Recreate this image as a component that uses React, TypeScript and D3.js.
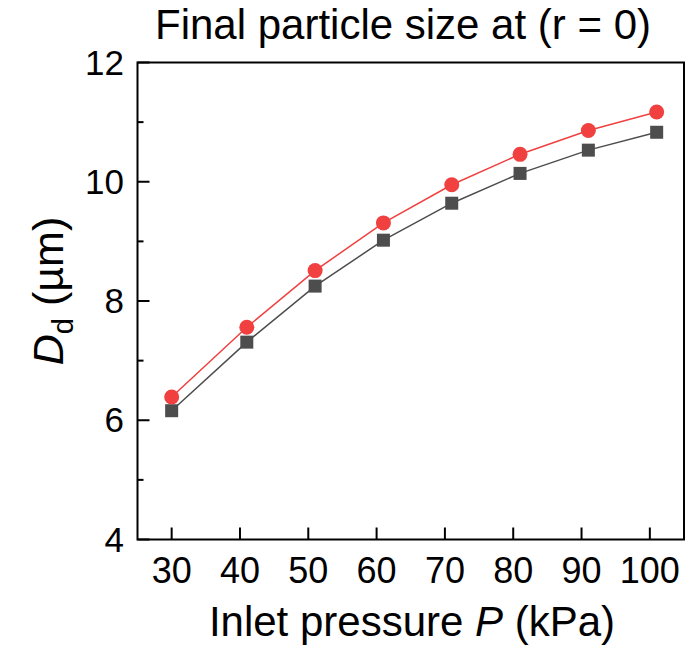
import React from "react";
import * as d3 from "d3";

const pressures = [30, 41, 51, 61, 71, 81, 91, 101];
const redSeries = [6.39, 7.56, 8.51, 9.31, 9.95, 10.46, 10.86, 11.17];
const graySeries = [6.16, 7.31, 8.25, 9.02, 9.64, 10.14, 10.53, 10.83];
const xTicks = [30, 40, 50, 60, 70, 80, 90, 100];
const yMajor = [4, 6, 8, 10, 12];
const yMinor = [5, 7, 9, 11];

const W = 697;
const H = 650;
const left = 137.5;
const right = 684;
const top = 62.5;
const bottom = 539.5;
const FONT = "'Liberation Sans', Arial, Helvetica, sans-serif";

export default function App() {
  const x = d3.scaleLinear().domain([25, 105]).range([left, right]);
  const y = d3.scaleLinear().domain([4, 12]).range([bottom, top]);
  const line = d3
    .line<number>()
    .x((_, i) => x(pressures[i]))
    .y((d) => y(d));
  const sq = 13;
  return (
    <svg
      width={W}
      height={H}
      style={{ position: "absolute", left: 0, top: 0, background: "#fff" }}
    >
      <rect x={0} y={0} width={W} height={H} fill="#fff" />
      <text
        x={403}
        y={39}
        textAnchor="middle"
        fontFamily={FONT}
        fontSize={42}
        fill="#000"
      >
        Final particle size at (r = 0)
      </text>
      {xTicks.map((t) => (
        <g key={"xt" + t}>
          <line x1={x(t)} x2={x(t)} y1={bottom} y2={bottom - 12} stroke="#000" strokeWidth={2} />
          <text
            x={x(t)}
            y={583}
            textAnchor="middle"
            fontFamily={FONT}
            fontSize={36}
            fill="#000"
          >
            {t}
          </text>
        </g>
      ))}
      {yMajor.map((t) => (
        <g key={"ym" + t}>
          <line x1={left} x2={left + 12} y1={y(t)} y2={y(t)} stroke="#000" strokeWidth={2} />
          <text
            x={124}
            y={y(t) + 12}
            textAnchor="end"
            fontFamily={FONT}
            fontSize={35}
            fill="#000"
          >
            {t}
          </text>
        </g>
      ))}
      {yMinor.map((t) => (
        <line key={"yn" + t} x1={left} x2={left + 6} y1={y(t)} y2={y(t)} stroke="#000" strokeWidth={2} />
      ))}
      <path d={line(graySeries) || ""} fill="none" stroke="#4d4d4d" strokeWidth={1.5} />
      <path d={line(redSeries) || ""} fill="none" stroke="#f04040" strokeWidth={1.5} />
      {graySeries.map((v, i) => (
        <rect
          key={"g" + i}
          x={x(pressures[i]) - sq / 2}
          y={y(v) - sq / 2}
          width={sq}
          height={sq}
          fill="#4d4d4d"
        />
      ))}
      {redSeries.map((v, i) => (
        <circle key={"r" + i} cx={x(pressures[i])} cy={y(v)} r={7.5} fill="#f04040" />
      ))}
      <rect
        x={left}
        y={top}
        width={right - left}
        height={bottom - top}
        fill="none"
        stroke="#000"
        strokeWidth={2}
      />
      <text
        x={412}
        y={636}
        textAnchor="middle"
        fontFamily={FONT}
        fontSize={42}
        fill="#000"
      >
        Inlet pressure <tspan fontStyle="italic">P</tspan> (kPa)
      </text>
      <text
        transform={`translate(63, 291) rotate(-90)`}
        textAnchor="middle"
        fontFamily={FONT}
        fontSize={43}
        fill="#000"
      >
        <tspan fontStyle="italic">D</tspan>
        <tspan fontSize={29} dy={10}>d</tspan>
        <tspan dy={-10}> (µm)</tspan>
      </text>
    </svg>
  );
}
